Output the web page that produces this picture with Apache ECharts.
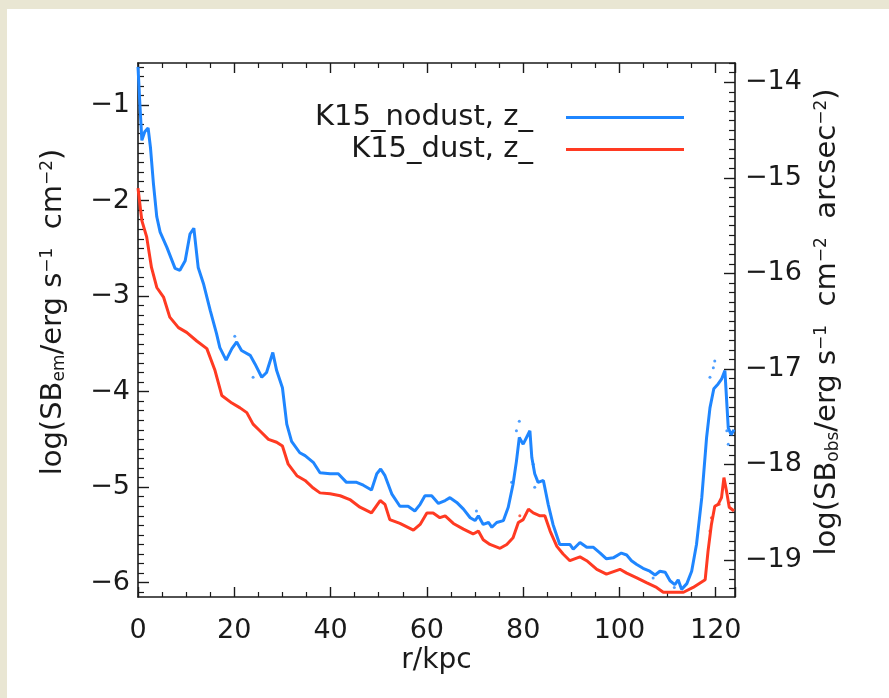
<!DOCTYPE html>
<html>
<head>
<meta charset="utf-8">
<script src="https://cdn.jsdelivr.net/npm/echarts@6/dist/echarts.min.js"></script>
<style>
html,body{margin:0;padding:0;background:#e9e6d3;}
#chart{width:889px;height:698px;}
</style>
</head>
<body>
<div id="chart"></div>
<script>
// ---------- data ----------
const rNodust = [0,0.4,0.8,1.4,2.1,2.6,3.2,3.9,4.6,6.0,7.7,8.7,9.8,10.8,11.6,12.5,13.6,15.0,16.3,17.0,18.3,19.5,20.5,21.5,23.3,24.3,25.7,26.7,28.0,28.8,30.0,30.9,31.9,33.6,34.7,36.4,37.8,39.9,41.6,43.3,45.4,46.8,48.5,49.6,50.4,51.3,52.7,54.4,56.1,57.5,58.6,59.6,61.0,62.4,63.8,64.8,66.2,67.6,69.0,70.0,70.7,71.7,72.8,73.5,74.5,75.9,76.9,77.9,78.6,79.2,80.0,80.7,81.4,81.8,82.4,83.1,84.2,85.2,86.2,87.6,88.7,89.7,90.4,91.8,93.2,94.6,96.0,97.3,98.7,100.4,101.5,102.5,103.6,104.9,106.3,107.4,108.4,109.5,110.5,111.5,112.2,112.9,114.0,115.0,116.0,117.1,118.1,118.8,119.6,120.5,121.2,121.9,122.6,123.2,123.8];
const sbNodust = [-0.60,-1.00,-1.37,-1.28,-1.24,-1.45,-1.82,-2.17,-2.33,-2.49,-2.71,-2.73,-2.63,-2.35,-2.29,-2.70,-2.87,-3.15,-3.39,-3.54,-3.67,-3.55,-3.48,-3.57,-3.62,-3.71,-3.85,-3.80,-3.59,-3.78,-3.96,-4.34,-4.52,-4.64,-4.67,-4.74,-4.85,-4.86,-4.86,-4.95,-4.95,-4.98,-5.03,-4.86,-4.81,-4.88,-5.07,-5.20,-5.20,-5.25,-5.18,-5.09,-5.09,-5.17,-5.14,-5.11,-5.16,-5.23,-5.32,-5.35,-5.30,-5.39,-5.37,-5.42,-5.37,-5.35,-5.21,-4.97,-4.73,-4.48,-4.55,-4.48,-4.41,-4.69,-4.86,-4.95,-4.93,-5.18,-5.39,-5.60,-5.60,-5.60,-5.65,-5.58,-5.63,-5.63,-5.69,-5.75,-5.74,-5.69,-5.71,-5.77,-5.81,-5.85,-5.88,-5.92,-5.88,-5.89,-5.98,-6.02,-5.97,-6.07,-6.01,-5.88,-5.60,-5.11,-4.48,-4.17,-3.97,-3.92,-3.87,-3.78,-4.38,-4.45,-4.40];

const rDust = [0,0.8,1.8,2.8,3.9,5.3,6.6,8.4,10.1,12.2,14.3,16.0,17.4,19.5,21.2,22.6,23.9,25.3,27.1,28.8,30.0,31.2,33.0,34.7,36.4,37.8,39.9,42.0,44.0,46.1,48.5,50.3,51.3,52.3,54.4,57.2,58.6,60.0,61.3,62.7,63.8,65.5,67.6,69.6,70.7,71.7,73.1,75.2,76.6,77.9,79.0,80.0,81.1,82.1,83.5,84.5,85.6,87.0,88.3,89.7,91.8,93.2,95.3,97.3,100.1,101.5,103.6,105.6,107.7,109.1,111.2,113.3,115.3,117.8,118.4,119.1,119.8,120.5,121.2,121.7,122.3,122.8,123.8];
const sbDust = [-1.87,-2.21,-2.38,-2.70,-2.91,-3.01,-3.22,-3.33,-3.38,-3.47,-3.55,-3.78,-4.04,-4.12,-4.17,-4.22,-4.34,-4.41,-4.50,-4.53,-4.57,-4.76,-4.88,-4.93,-5.01,-5.06,-5.07,-5.09,-5.13,-5.21,-5.27,-5.14,-5.18,-5.34,-5.38,-5.45,-5.39,-5.27,-5.27,-5.32,-5.30,-5.38,-5.44,-5.49,-5.46,-5.55,-5.60,-5.64,-5.60,-5.53,-5.37,-5.34,-5.23,-5.27,-5.30,-5.30,-5.46,-5.62,-5.70,-5.77,-5.73,-5.77,-5.86,-5.91,-5.86,-5.90,-5.95,-6.00,-6.05,-6.10,-6.10,-6.10,-6.05,-5.97,-5.67,-5.39,-5.20,-5.18,-5.11,-4.90,-5.06,-5.21,-5.25];

// scattered dots around the curves
const rNodustDots = [20.1,23.9,70.3,77.6,78.6,79.2,82.1,82.4,107.0,111.4,118.8,119.5,119.8,122.3,122.6];
const sbNodustDots = [-3.42,-3.85,-5.25,-4.95,-4.41,-4.31,-4.76,-5.00,-5.95,-6.05,-3.85,-3.75,-3.68,-4.41,-4.55];
const rDustDots = [79.3,118.8,119.1,120.7];
const sbDustDots = [-5.30,-5.46,-5.32,-5.18];

const seriesNames = ['K15_nodust, z_', 'K15_dust, z_'];
const leftTicks = [-6,-5,-4,-3,-2,-1];
const rightTicks = [-19,-18,-17,-16,-15,-14];
const xTicks = [0,20,40,60,80,100,120];
const obsOffset = -13.238;   // log SB_obs = log SB_em + offset
const xMin = 0, xMax = 124;
const yMin = -6.15, yMax = -0.56;

// ---------- chart ----------
const FONT = 'DejaVu Sans';
const INK = '#1a1a1a';
const BLUE = '#1f86ff';
const RED = '#ff3a22';

function minorList(lo, hi, step, majors){
  const out = [];
  for (let v = Math.ceil(lo/step - 1e-9); v*step <= hi + 1e-9; v++){
    const val = Math.round(v*step*100)/100;
    if (!majors.some(m => Math.abs(m - val) < 1e-6)) out.push(val);
  }
  return out;
}
const leftMinor = minorList(yMin, yMax, 0.1, leftTicks);
const rightMinor = minorList(yMin + obsOffset, yMax + obsOffset, 0.1, rightTicks);
const fmt = v => (v < 0 ? '\u2212' : '') + Math.abs(Math.round(v));

const chart = echarts.init(document.getElementById('chart'), null, {renderer: 'canvas'});

const titleRich = {
  a: {fontSize: 29, fontFamily: FONT, color: INK},
  sub: {fontSize: 17, fontFamily: FONT, color: INK, verticalAlign: 'bottom'},
  sup: {fontSize: 17, fontFamily: FONT, color: INK, verticalAlign: 'top'}
};

const lineAx = {show: true, onZero: false, lineStyle: {color: INK, width: 1.6}};
const majorTick = len => ({show: true, inside: true, length: len, lineStyle: {color: INK, width: 1.4}});

const option = {
  backgroundColor: '#e9e6d3',
  animation: false,
  graphic: [{type: 'rect', shape: {x: 7, y: 9, width: 882, height: 689}, style: {fill: '#ffffff'}, z: -10, silent: true}],
  grid: {left: 138, right: 154, top: 63, bottom: 101, outerBoundsMode: 'none', containLabel: false},
  legend: [
    {data: [seriesNames[0]], right: 205, top: 103, padding: 0, icon: 'rect', itemWidth: 118, itemHeight: 3,
     align: 'right', selectedMode: false,
     textStyle: {fontSize: 29, fontFamily: FONT, color: INK, padding: [0, 28, 0, 0]}},
    {data: [seriesNames[1]], right: 205, top: 135, padding: 0, icon: 'rect', itemWidth: 118, itemHeight: 3,
     align: 'right', selectedMode: false,
     textStyle: {fontSize: 29, fontFamily: FONT, color: INK, padding: [0, 28, 0, 0]}}
  ],
  xAxis: [
    {type: 'value', position: 'bottom', min: xMin, max: xMax, interval: 20,
     axisLine: lineAx, splitLine: {show: false},
     axisTick: majorTick(10),
     minorTick: {show: true, splitNumber: 4, length: 5, lineStyle: {color: INK, width: 1.2}},
     axisLabel: {show: true, margin: 20, fontSize: 27, fontFamily: FONT, color: INK,
                 customValues: xTicks, formatter: v => String(v)},
     name: 'r/kpc', nameLocation: 'middle', nameGap: 50, nameMoveOverlap: false,
     nameTextStyle: {fontSize: 28, fontFamily: FONT, color: INK}},
    {type: 'value', position: 'top', min: xMin, max: xMax, interval: 20,
     axisLine: lineAx, splitLine: {show: false},
     axisTick: majorTick(10),
     minorTick: {show: true, splitNumber: 4, length: 5, lineStyle: {color: INK, width: 1.2}},
     axisLabel: {show: false}}
  ],
  yAxis: [
    {type: 'value', position: 'left', min: yMin, max: yMax,
     axisLine: lineAx, splitLine: {show: false},
     axisTick: Object.assign(majorTick(11), {customValues: leftTicks}),
     axisLabel: {show: true, margin: 8, fontSize: 27, fontFamily: FONT, color: INK,
                 customValues: leftTicks, formatter: fmt},
     name: '{a|log(SB}{sub|em}{a|/erg s}{sup|\u22121}{a|  cm}{sup|\u22122}{a|)}',
     nameLocation: 'middle', nameRotate: 90, nameGap: 70, nameMoveOverlap: false,
     nameTextStyle: {rich: titleRich, fontSize: 29, fontFamily: FONT, color: INK, padding: [0, 0, 0, 36]}},
    {type: 'value', position: 'right', min: yMin + obsOffset, max: yMax + obsOffset,
     axisLine: lineAx, splitLine: {show: false},
     axisTick: Object.assign(majorTick(11), {customValues: rightTicks}),
     axisLabel: {show: true, margin: 10, fontSize: 27, fontFamily: FONT, color: INK,
                 customValues: rightTicks, formatter: fmt},
     name: '{a|log(SB}{sub|obs}{a|/erg s}{sup|\u22121}{a|  cm}{sup|\u22122}{a|  arcsec}{sup|\u22122}{a|)}',
     nameLocation: 'middle', nameRotate: 90, nameGap: 78, nameMoveOverlap: false,
     nameTextStyle: {rich: titleRich, fontSize: 29, fontFamily: FONT, color: INK, padding: [0, 0, 0, 16]}},
    {type: 'value', position: 'left', min: yMin, max: yMax,
     axisLine: {show: false, onZero: false}, splitLine: {show: false}, axisLabel: {show: false},
     axisTick: {show: true, inside: true, length: 6, customValues: leftMinor, lineStyle: {color: INK, width: 1.2}}},
    {type: 'value', position: 'right', min: yMin + obsOffset, max: yMax + obsOffset,
     axisLine: {show: false, onZero: false}, splitLine: {show: false}, axisLabel: {show: false},
     axisTick: {show: true, inside: true, length: 6, customValues: rightMinor, lineStyle: {color: INK, width: 1.2}}}
  ],
  series: [
    {name: seriesNames[0], type: 'line', xAxisIndex: 0, yAxisIndex: 0, showSymbol: false, symbol: 'none',
     color: BLUE, lineStyle: {width: 3, color: BLUE}, z: 3,
     data: rNodust.map((r, i) => [r, sbNodust[i]])},
    {name: seriesNames[1], type: 'line', xAxisIndex: 0, yAxisIndex: 0, showSymbol: false, symbol: 'none',
     color: RED, lineStyle: {width: 3, color: RED}, z: 2,
     data: rDust.map((r, i) => [r, sbDust[i]])},
    {name: 'nodust dots', type: 'scatter', xAxisIndex: 0, yAxisIndex: 0, symbolSize: 3,
     itemStyle: {color: BLUE}, data: rNodustDots.map((r, i) => [r, sbNodustDots[i]])},
    {name: 'dust dots', type: 'scatter', xAxisIndex: 0, yAxisIndex: 0, symbolSize: 3,
     itemStyle: {color: RED}, data: rDustDots.map((r, i) => [r, sbDustDots[i]])}
  ]
};
chart.setOption(option);
</script>
</body>
</html>
